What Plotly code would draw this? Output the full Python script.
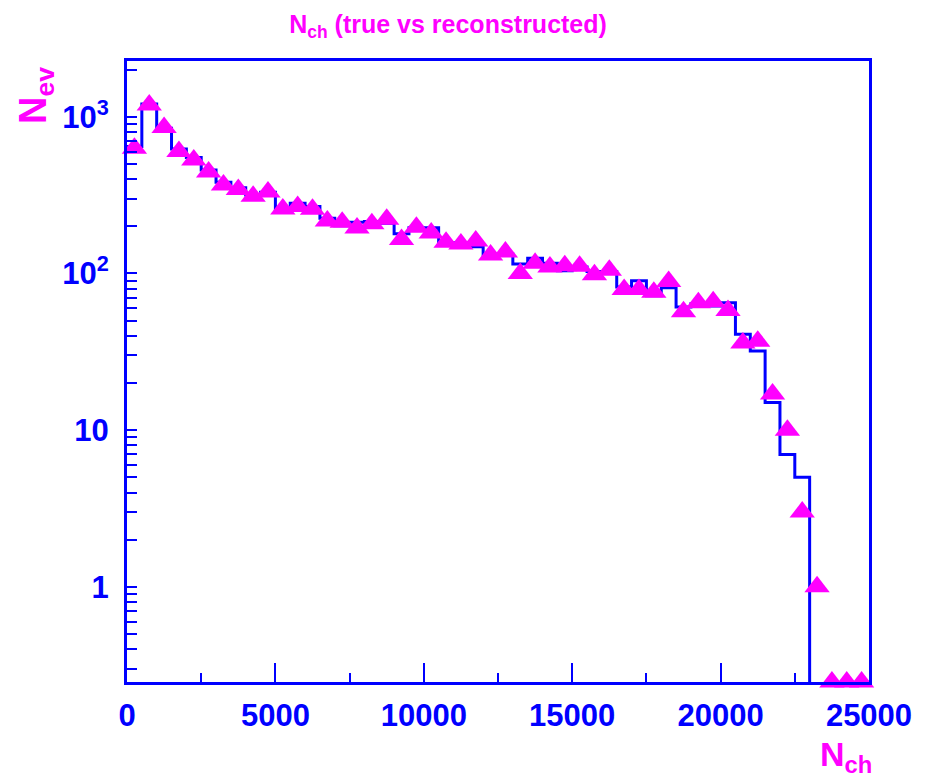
import numpy as np
import plotly.graph_objects as go

# ---- data ----
BIN_WIDTH = 500
N_BINS = 50

true_counts = [645, 1207, 846, 624, 550, 458, 382, 353, 317, 330,
               248, 281, 268, 225, 202, 212, 215, 209, 179, 196,
               196, 157, 157, 148, 128, 133, 115, 125, 116, 104,
               110, 103, 103, 82, 90, 72, 81, 61, 64, 62,
               65, 41, 32, 15, 7, 5, 0, 0, 0, 0]

reco_counts = [630, 1190, 855, 600, 530, 444, 367, 343, 311, 331,
               258, 268, 257, 216, 212, 195, 208, 222, 165, 197,
               181, 158, 154, 161, 131, 137, 100, 116, 110, 112,
               111, 98, 105, 79, 79, 76, 89, 57, 65, 66,
               58, 36, 37, 17, 10, 3, 1, 0, 0, 0]

x_tick_vals = [0, 5000, 10000, 15000, 20000, 25000]
x_tick_text = ["0", "5000", "10000", "15000", "20000", "25000"]
x_minor_vals = [2500, 7500, 12500, 17500, 22500]
y_tick_vals = [1, 10, 100, 1000]
y_tick_text = ["1", "10", "10<sup>2</sup>", "10<sup>3</sup>"]

X_MIN, X_MAX = 0, 25000
Y_MIN, Y_MAX = 0.247, 2270

# ---- derived ----
edges = np.arange(N_BINS + 1) * BIN_WIDTH
centers = edges[:-1] + BIN_WIDTH / 2

# histogram step line: empty bins drop below the axis floor
line_y = [c if c > 0 else Y_MIN * 1e-3 for c in true_counts]
line_y = line_y + [line_y[-1]]
# markers: empty bins are drawn on the axis floor (as ROOT does)
mark_y = [c if c > 0 else Y_MIN for c in reco_counts]

minor_y = []
for dec in [0.1, 1, 10, 100, 1000]:
    for k in range(2, 10):
        v = k * dec
        if Y_MIN < v < Y_MAX:
            minor_y.append(v)

BLUE = "#0000ff"
MAGENTA = "#ff00ff"
FONT = "Liberation Sans, Arial, sans-serif"

fig = go.Figure()
fig.add_trace(go.Scatter(
    x=edges, y=line_y, mode="lines", line=dict(color=BLUE, width=3, shape="hv"),
    showlegend=False, hoverinfo="skip"))
fig.add_trace(go.Scatter(
    x=centers, y=mark_y, mode="markers",
    marker=dict(symbol="triangle-up", size=22, color=MAGENTA, line=dict(width=0)),
    cliponaxis=False, showlegend=False))

fig.update_layout(
    width=928, height=780,
    margin=dict(l=127, r=59, t=61, b=98),
    paper_bgcolor="white", plot_bgcolor="white",
    title=dict(text="N<sub>ch</sub> (true vs reconstructed)",
               font=dict(family=FONT, size=25, color=MAGENTA, weight="bold"),
               x=448 / 928, xanchor="center", xref="container",
               y=1 - 24 / 780, yanchor="middle", yref="container"),
    xaxis=dict(range=[X_MIN, X_MAX], showgrid=False, zeroline=False,
               showline=True, linecolor=BLUE, linewidth=3, mirror=True,
               tickvals=x_tick_vals, ticktext=x_tick_text,
               ticks="inside", ticklen=19, tickwidth=2,
               tickcolor=BLUE, ticklabelstandoff=4,
               tickfont=dict(family=FONT, size=31, color=BLUE, weight="bold"),
               minor=dict(tickvals=x_minor_vals, ticks="inside", ticklen=9,
                          tickwidth=2, tickcolor=BLUE, showgrid=False)),
    yaxis=dict(type="log", range=[np.log10(Y_MIN), np.log10(Y_MAX)],
               showgrid=False, zeroline=False,
               showline=True, linecolor=BLUE, linewidth=3, mirror=True,
               tickvals=y_tick_vals, ticktext=y_tick_text,
               ticks="inside", ticklen=10, tickwidth=2, tickcolor=BLUE,
               ticklabelstandoff=9,
               tickfont=dict(family=FONT, size=31, color=BLUE, weight="bold"),
               minor=dict(tickvals=minor_y, ticks="inside", ticklen=10,
                          tickwidth=2, tickcolor=BLUE, showgrid=False)),
    annotations=[
        dict(text="N<sub>ev</sub>", textangle=-90, showarrow=False,
             xref="paper", yref="paper",
             x=(36 - 127) / 742, y=(681.7 - 96) / 620.7,
             xanchor="center", yanchor="middle",
             font=dict(family=FONT, size=38, color=MAGENTA, weight="bold")),
        dict(text="N<sub>ch</sub>", showarrow=False,
             xref="paper", yref="paper",
             x=(846 - 127) / 742, y=(681.7 - 756) / 620.7,
             xanchor="center", yanchor="middle",
             font=dict(family=FONT, size=34, color=MAGENTA, weight="bold")),
    ],
)

fig.write_html("out.html")
